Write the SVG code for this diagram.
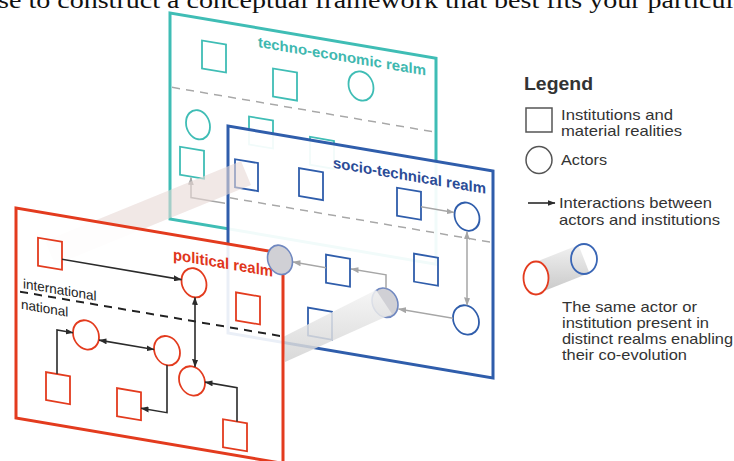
<svg xmlns="http://www.w3.org/2000/svg" width="734" height="461" viewBox="0 0 734 461">
  <defs>
    <style>
      .te { fill:none; stroke:#3fbdb5; stroke-width:1.8 }
      .st { fill:none; stroke:#2f5dab; stroke-width:1.8 }
      .po { fill:none; stroke:#e33b1e; stroke-width:1.8 }
      .cap { fill:#d0d0d5; stroke:#7088c0; stroke-width:1.6 }
      .ga { fill:none; stroke:#a6a6a6; stroke-width:1.5 }
      .ba { fill:none; stroke:#2b2b2b; stroke-width:1.6 }
      .lbl { font-family:"Liberation Sans",Arial,Helvetica,sans-serif; font-weight:bold }
      .leg { font-family:"Liberation Sans",Arial,Helvetica,sans-serif; fill:#333; font-size:14.5px }
      .scale { font-family:"Liberation Sans",Arial,Helvetica,sans-serif; fill:#222; font-size:13.5px }
    </style>
    <marker id="ahB" viewBox="0 0 8 6" refX="7.5" refY="3" markerWidth="8" markerHeight="6" markerUnits="userSpaceOnUse" orient="auto-start-reverse">
      <path d="M0,0 L8,3 L0,6 z" fill="#2b2b2b"/>
    </marker>
    <marker id="ahG" viewBox="0 0 8 6" refX="7.5" refY="3" markerWidth="8" markerHeight="6" markerUnits="userSpaceOnUse" orient="auto-start-reverse">
      <path d="M0,0 L8,3 L0,6 z" fill="#a6a6a6"/>
    </marker>
    <linearGradient id="tubeShade" x1="0" y1="0" x2="0" y2="1">
      <stop offset="0" stop-color="#f1f1f1"/>
      <stop offset="1" stop-color="#c9c9c9"/>
    </linearGradient>
    <linearGradient id="tubeFaint" x1="0" y1="0" x2="0" y2="1">
      <stop offset="0" stop-color="#f4f4f4"/>
      <stop offset="1" stop-color="#d2d2d2"/>
    </linearGradient>
  </defs>

  <rect width="734" height="461" fill="#ffffff"/>

  <!-- running text of the page above the figure -->
  <text x="-2" y="8" font-family="Liberation Serif, Times New Roman, serif" font-size="24" fill="#111" textLength="757" lengthAdjust="spacingAndGlyphs">se to construct a conceptual framework that best fits your particular</text>

  <!-- techno-economic realm (back plane) -->
  <g id="techno-economic-realm" transform="translate(170,13) skewY(9.65)">
    <rect x="0" y="0" width="266" height="206" fill="#ffffff" stroke="#3fbdb5" stroke-width="3"/>
    <text class="lbl" x="88" y="19" font-size="14.5" fill="#3fb8b0" textLength="168" lengthAdjust="spacingAndGlyphs">techno-economic realm</text>
    <path d="M2,74 H264" stroke="#a8a8a8" stroke-width="1.5" stroke-dasharray="8 6" fill="none"/>
    <g id="te-inst-1"><rect class="te" x="32" y="22" width="24" height="28"/></g>
    <g id="te-inst-2"><rect class="te" x="103" y="38" width="24" height="28"/></g>
    <g id="te-actor-1"><ellipse class="te" cx="191" cy="40.5" rx="12.5" ry="14.5"/></g>
    <g id="te-actor-2"><ellipse class="te" cx="28" cy="107" rx="12" ry="14.5"/></g>
    <g id="te-inst-3"><rect class="te" x="79" y="90" width="24" height="28"/></g>
    <g id="te-inst-4"><rect class="te" x="140" y="100" width="24" height="28"/></g>
    <g id="te-inst-5"><rect class="te" x="10" y="132" width="24" height="28"/></g>
    <g id="te-connectors">
      <path class="ga" d="M55,181 H21 V161" marker-end="url(#ahG)"/>
    </g>
  </g>

  <!-- socio-technical realm (middle plane) -->
  <g id="socio-technical-realm" transform="translate(228,126) skewY(9.65)">
    <rect x="0" y="0" width="265" height="207" fill="#ffffff" fill-opacity="0.93" stroke="#2f5dab" stroke-width="3"/>
    <text class="lbl" x="105" y="24" font-size="15" fill="#2b4c97" textLength="153" lengthAdjust="spacingAndGlyphs">socio-technical realm</text>
    <path d="M2,71.5 H263" stroke="#a8a8a8" stroke-width="1.5" stroke-dasharray="8 6" fill="none"/>
    <g id="st-inst-1"><rect class="st" x="7" y="32" width="23" height="28"/></g>
    <g id="st-inst-2"><rect class="st" x="71" y="30" width="24" height="28"/></g>
    <g id="st-inst-3"><rect class="st" x="169" y="33" width="24" height="28"/></g>
    <g id="st-actor-1"><ellipse class="st" cx="239" cy="50" rx="12.5" ry="14"/></g>
    <g id="st-inst-4"><rect class="st" x="98" y="112" width="24" height="28"/></g>
    <g id="st-inst-5"><rect class="st" x="186" y="96" width="24" height="28"/></g>
    <g id="st-inst-6"><rect class="st" x="80" y="168" width="24" height="28"/></g>
    <g id="st-actor-3"><ellipse class="cap" cx="157" cy="150" rx="13" ry="14.5"/></g>
    <g id="st-actor-4"><ellipse class="st" cx="238" cy="153.5" rx="13" ry="14.5"/></g>
    <g id="st-connectors">
      <path class="ga" d="M193,48 H226" marker-end="url(#ahG)"/>
      <path class="ga" d="M98,125 H65" marker-end="url(#ahG)"/>
      <path class="ga" d="M158,135.5 V122 H123" marker-end="url(#ahG)"/>
      <path class="ga" d="M225,154 H170.5" marker-end="url(#ahG)"/>
      <path class="ga" d="M239,65 V138.5" marker-start="url(#ahG)" marker-end="url(#ahG)"/>
    </g>
  </g>

  <!-- tubes joining the same entity across realms -->
  <g id="cross-realm-links">
    <polygon points="45,241 241,161 251,185 55,265" fill="#e8d9d6" fill-opacity="0.6"/>
    <polygon points="376,290 392,314 285,362 283,337" fill="url(#tubeFaint)" fill-opacity="0.85"/>
  </g>

  <!-- political realm (front plane) -->
  <g id="political-realm" transform="translate(16,208) skewY(9.65)">
    <rect x="0" y="0" width="267" height="210" fill="#ffffff" fill-opacity="0.9"/>
    <text class="lbl" x="157" y="25" font-size="15.5" fill="#e0361c" textLength="100" lengthAdjust="spacingAndGlyphs">political realm</text>
    <text class="scale" x="7" y="79">international</text>
    <text class="scale" x="5" y="100">national</text>
    <path d="M4,83 H265" stroke="#222" stroke-width="2" stroke-dasharray="8 6" fill="none"/>
    <g id="po-inst-1"><rect class="po" x="22" y="26" width="24" height="28"/></g>
    <g id="po-actor-1"><ellipse class="po" cx="178" cy="44.5" rx="12.5" ry="14.5"/></g>
    <g id="po-inst-2"><rect class="po" x="220" y="47" width="24" height="28"/></g>
    <g id="po-actor-2"><ellipse class="po" cx="70" cy="115" rx="13" ry="14.5"/></g>
    <g id="po-actor-3"><ellipse class="po" cx="151" cy="117" rx="13" ry="14.5"/></g>
    <g id="po-actor-4"><ellipse class="po" cx="176" cy="143" rx="13" ry="14.5"/></g>
    <g id="po-inst-3"><rect class="po" x="30" y="159" width="24" height="28"/></g>
    <g id="po-inst-4"><rect class="po" x="101" y="163" width="24" height="28"/></g>
    <g id="po-inst-5"><rect class="po" x="207" y="176" width="24" height="28"/></g>
    <g id="po-connectors">
      <path class="ba" d="M46,43.5 H165.5" marker-end="url(#ahB)"/>
      <path class="ba" d="M179,59 V128.5" marker-start="url(#ahB)" marker-end="url(#ahB)"/>
      <path class="ba" d="M83,118 H138" marker-start="url(#ahB)" marker-end="url(#ahB)"/>
      <path class="ba" d="M41,159 V115 H57" marker-end="url(#ahB)"/>
      <path class="ba" d="M151,131.5 V179 H125" marker-end="url(#ahB)"/>
      <path class="ba" d="M221,176 V142 H189" marker-end="url(#ahB)"/>
    </g>
    <rect x="0" y="0" width="267" height="210" fill="none" stroke="#e33b1e" stroke-width="3"/>
  </g>

  <!-- tube end of the socio-technical actor that reaches the political plane -->
  <g id="st-actor-2" transform="translate(228,126) skewY(9.65)">
    <ellipse class="cap" cx="52" cy="125" rx="12.5" ry="14.5"/>
  </g>

  <!-- legend -->
  <g id="legend">
    <text class="lbl" x="524" y="90" font-size="18" fill="#333" textLength="69" lengthAdjust="spacingAndGlyphs">Legend</text>
    <rect x="526" y="108" width="26" height="24" fill="none" stroke="#555" stroke-width="1.5"/>
    <text class="leg" x="561" y="119.5" textLength="112" lengthAdjust="spacingAndGlyphs">Institutions and</text>
    <text class="leg" x="561" y="136" textLength="121" lengthAdjust="spacingAndGlyphs">material realities</text>
    <ellipse cx="539" cy="160" rx="13" ry="13.5" fill="none" stroke="#555" stroke-width="1.5"/>
    <text class="leg" x="561" y="165" textLength="46" lengthAdjust="spacingAndGlyphs">Actors</text>
    <path class="ba" d="M528,203 H555" marker-end="url(#ahB)"/>
    <text class="leg" x="559" y="208" textLength="153" lengthAdjust="spacingAndGlyphs">Interactions between</text>
    <text class="leg" x="559" y="224.5" textLength="161" lengthAdjust="spacingAndGlyphs">actors and institutions</text>
    <polygon points="530.5,264 578.5,245 589.5,273 541.5,292" fill="url(#tubeShade)"/>
    <ellipse cx="584" cy="259" rx="13" ry="15" fill="none" stroke="#3a66b5" stroke-width="1.8"/>
    <ellipse cx="536" cy="278" rx="12.5" ry="16.5" fill="#ffffff" stroke="#e33b1e" stroke-width="1.8"/>
    <text class="leg" x="562" y="312" textLength="135" lengthAdjust="spacingAndGlyphs">The same actor or</text>
    <text class="leg" x="562" y="328" textLength="147" lengthAdjust="spacingAndGlyphs">institution present in</text>
    <text class="leg" x="562" y="344" textLength="171" lengthAdjust="spacingAndGlyphs">distinct realms enabling</text>
    <text class="leg" x="562" y="360" textLength="125" lengthAdjust="spacingAndGlyphs">their co-evolution</text>
  </g>
</svg>
